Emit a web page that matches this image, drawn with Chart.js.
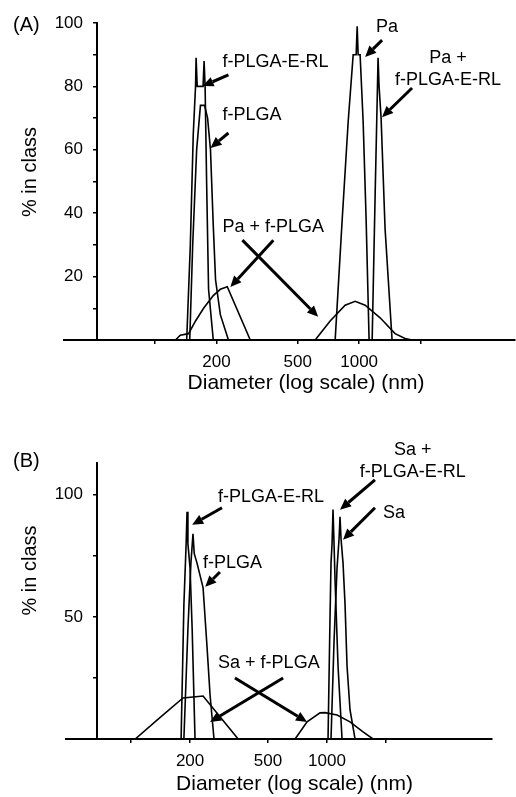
<!DOCTYPE html>
<html>
<head>
<meta charset="utf-8">
<script src="https://cdn.jsdelivr.net/npm/chart.js@4.4.0/dist/chart.umd.min.js"></script>
<style>
  body { margin: 0; background: #fff; }
  canvas { display: block; }
</style>
</head>
<body>
<canvas id="chartA" width="516" height="400"></canvas>
<canvas id="chartB" width="516" height="397"></canvas>
<script>
// Panel A: diameter (nm) / % in class
const aErlD = [143, 149, 154, 158, 159, 161, 172, 174, 176, 179, 183, 193];
const aErlP = [0, 30, 65, 80, 89, 80, 80, 88, 80, 50, 16, 0];
const aPlgaD = [148, 153, 160, 167, 175, 181, 187, 193, 198, 209, 229];
const aPlgaP = [0, 30, 60, 74, 74, 70, 60, 36, 19, 8, 0];
const aPaPlgaD = [126, 133, 146, 158, 173, 193, 209, 226, 293, 609, 721, 854, 956, 1070, 1267, 1500, 1678, 1816];
const aPaPlgaP = [0, 1.5, 2, 6, 10, 14, 16, 16.8, 0, 0, 6, 11, 12.2, 11, 7, 2, 0.5, 0];
const aPaD = [763, 826, 884, 935, 967, 978, 989, 1011, 1046, 1082, 1119];
const aPaP = [0, 38, 69, 90, 90, 99, 90, 90, 69, 38, 0];
const aPaErlD = [1158, 1197, 1225, 1238, 1252, 1281, 1340, 1450];
const aPaErlP = [0, 45, 75, 89, 80, 70, 35, 0];

// Panel B
const bErlD = [180, 186, 191, 193, 195, 200, 205, 212];
const bErlP = [0, 55, 80, 93, 80, 70, 45, 0];
const bPlgaD = [186, 195, 202, 207, 210, 217, 233, 244, 253, 265];
const bPlgaP = [0, 45, 72, 84, 76, 72, 62, 38, 18, 0];
const bSaPlgaD = [105, 137, 184, 233, 352, 687, 791, 921, 977, 1125, 1310, 1527, 1717];
const bSaPlgaP = [0, 8, 16.8, 17.6, 0, 0, 7, 10.7, 10.8, 9.8, 7, 2.9, 0];
const bSaD = [1048, 1086, 1125, 1152, 1165, 1179, 1207, 1236, 1265, 1310, 1390];
const bSaP = [0, 40, 70, 82, 91, 82, 72, 55, 30, 12, 0];
const bSaErlD = [1012, 1036, 1048, 1061, 1073, 1086, 1099, 1138, 1193];
const bSaErlP = [0, 50, 72, 80, 94, 80, 65, 30, 0];

// ticks
const xTicks = [100, 200, 500, 1000, 2000];
const xLabels = [200, 500, 1000];
const aYTicks = [0, 10, 20, 30, 40, 50, 60, 70, 80, 90, 100];
const aYLabels = [20, 40, 60, 80, 100];
const bYTicks = [0, 25, 50, 75, 100];
const bYLabels = [50, 100];

// labels and arrows, in data units (nm, %)
const aNotes = [
    { lines: ['f-PLGA-E-RL'], x: 214, y: 87.7, align: 'left' },
    { lines: ['f-PLGA'], x: 214, y: 71, align: 'left' },
    { lines: ['Pa + f-PLGA'], x: 214, y: 35.6, align: 'left' },
    { lines: ['Pa'], x: 1370, y: 98.7, align: 'center' },
    { lines: ['Pa +', 'f-PLGA-E-RL'], x: 2722, y: 89, align: 'center' }
];
const aArrows = [
    [229, 83.6, 171, 80.1],
    [229, 65.3, 187, 60.6],
    [380, 31.5, 234, 16.7],
    [268, 31.5, 630, 7.3],
    [1295, 94.6, 1070, 89.3],
    [1816, 79.5, 1295, 70.3]
];
const bNotes = [
    { lines: ['f-PLGA-E-RL'], x: 278, y: 99.2, align: 'left' },
    { lines: ['f-PLGA'], x: 233, y: 72.1, align: 'left' },
    { lines: ['Sa + f-PLGA'], x: 278, y: 31.1, align: 'left' },
    { lines: ['Sa +', 'f-PLGA-E-RL'], x: 2740, y: 118.4, align: 'center' },
    { lines: ['Sa'], x: 1931, y: 92.6, align: 'left' }
];
const bArrows = [
    [291, 94.7, 205, 87.7],
    [284, 68.4, 239, 62.3],
    [339, 25, 791, 7],
    [597, 25, 253, 7],
    [1757, 106.1, 1165, 93.9],
    [1757, 94.7, 1207, 81.6]
];

const FONT = '"Liberation Sans", Arial, sans-serif';
Chart.defaults.font.family = FONT;
Chart.defaults.color = '#000';

function pts(d, p) {
    return d.map((v, i) => ({ x: v, y: p[i] }));
}

function series(d, p) {
    return { data: pts(d, p), borderColor: '#000', borderWidth: 1.6, pointRadius: 0, tension: 0, fill: false };
}

function drawArrow(ctx, x1, y1, x2, y2) {
    const ang = Math.atan2(y2 - y1, x2 - x1);
    const head = 11, half = 5;
    const bx = x2 - head * Math.cos(ang), by = y2 - head * Math.sin(ang);
    ctx.lineWidth = 3;
    ctx.beginPath();
    ctx.moveTo(x1, y1);
    ctx.lineTo(bx, by);
    ctx.stroke();
    ctx.beginPath();
    ctx.moveTo(x2, y2);
    ctx.lineTo(bx + half * Math.sin(ang), by - half * Math.cos(ang));
    ctx.lineTo(bx - half * Math.sin(ang), by + half * Math.cos(ang));
    ctx.closePath();
    ctx.fill();
}

// extra drawing: panel letter, y title, axis overhang, notes and arrows
const extras = {
    id: 'extras',
    afterDraw(chart, args, o) {
        const ctx = chart.ctx, xs = chart.scales.x, ys = chart.scales.y, area = chart.chartArea;
        ctx.save();
        ctx.strokeStyle = '#000';
        ctx.fillStyle = '#000';
        ctx.lineWidth = 2;
        ctx.beginPath();
        ctx.moveTo(area.left - o.overhang, area.bottom);
        ctx.lineTo(area.left, area.bottom);
        ctx.stroke();

        ctx.font = '20px ' + FONT;
        ctx.textBaseline = 'middle';
        ctx.textAlign = 'left';
        ctx.fillText(o.panel, 13, o.panelY);

        ctx.save();
        ctx.translate(30, ys.getPixelForValue(o.yTitleAt));
        ctx.rotate(-Math.PI / 2);
        ctx.textAlign = 'center';
        ctx.font = '20px ' + FONT;
        ctx.fillText('% in class', 0, 0);
        ctx.restore();

        ctx.font = '18px ' + FONT;
        o.notes.forEach(n => {
            ctx.textAlign = n.align;
            const px = xs.getPixelForValue(n.x), py = ys.getPixelForValue(n.y);
            n.lines.forEach((t, i) => ctx.fillText(t, px, py + i * 22));
        });
        o.arrows.forEach(a => drawArrow(ctx,
            xs.getPixelForValue(a[0]), ys.getPixelForValue(a[1]),
            xs.getPixelForValue(a[2]), ys.getPixelForValue(a[3])));
        ctx.restore();
    }
};

function makeChart(id, cfg) {
    return new Chart(document.getElementById(id), {
        type: 'line',
        data: { datasets: cfg.sets },
        plugins: [extras],
        options: {
            responsive: false,
            animation: false,
            events: [],
            layout: { padding: cfg.padding },
            plugins: { legend: { display: false }, tooltip: { enabled: false }, extras: cfg.extras },
            scales: {
                x: {
                    type: 'logarithmic',
                    min: cfg.xMin,
                    max: cfg.xMax,
                    afterBuildTicks: s => { s.ticks = xTicks.map(v => ({ value: v })); },
                    afterFit: s => { s.height = cfg.xHeight; },
                    ticks: {
                        autoSkip: false, maxRotation: 0, padding: 8, font: { size: 17 },
                        callback: v => xLabels.includes(v) ? String(v) : ''
                    },
                    grid: { drawOnChartArea: false, tickLength: 4, color: '#000', lineWidth: 1.5 },
                    border: { color: '#000', width: 2 },
                    title: { display: true, text: 'Diameter (log scale) (nm)', font: { size: 21 }, padding: { top: 0, bottom: cfg.titlePad } }
                },
                y: {
                    type: 'linear',
                    min: 0,
                    max: cfg.yMax,
                    afterBuildTicks: s => { s.ticks = cfg.yTicks.map(v => ({ value: v })); },
                    afterFit: s => { s.width = 97; },
                    ticks: {
                        autoSkip: false, padding: 10, font: { size: 17 },
                        callback: v => cfg.yLabels.includes(v) ? String(v) : ''
                    },
                    grid: { drawOnChartArea: false, tickLength: 4, color: '#000', lineWidth: 1.5 },
                    border: { color: '#000', width: 2 }
                }
            }
        }
    });
}

makeChart('chartA', {
    sets: [
        series(aErlD, aErlP), series(aPlgaD, aPlgaP), series(aPaPlgaD, aPaPlgaP),
        series(aPaD, aPaP), series(aPaErlD, aPaErlP)
    ],
    padding: { top: 23, right: 1, left: 0, bottom: 0 },
    xMin: 52, xMax: 5800, xHeight: 60, titlePad: 4,
    yMax: 100, yTicks: aYTicks, yLabels: aYLabels,
    extras: { panel: '(A)', panelY: 25, overhang: 34, yTitleAt: 53, notes: aNotes, arrows: aArrows }
});

makeChart('chartB', {
    sets: [
        series(bErlD, bErlP), series(bPlgaD, bPlgaP), series(bSaPlgaD, bSaPlgaP),
        series(bSaD, bSaP), series(bSaErlD, bSaErlP)
    ],
    padding: { top: 63, right: 24, left: 0, bottom: 0 },
    xMin: 67, xMax: 6950, xHeight: 58, titlePad: 0,
    yMax: 113, yTicks: bYTicks, yLabels: bYLabels,
    extras: { panel: '(B)', panelY: 61, overhang: 32, yTitleAt: 69, notes: bNotes, arrows: bArrows }
});
</script>
</body>
</html>
